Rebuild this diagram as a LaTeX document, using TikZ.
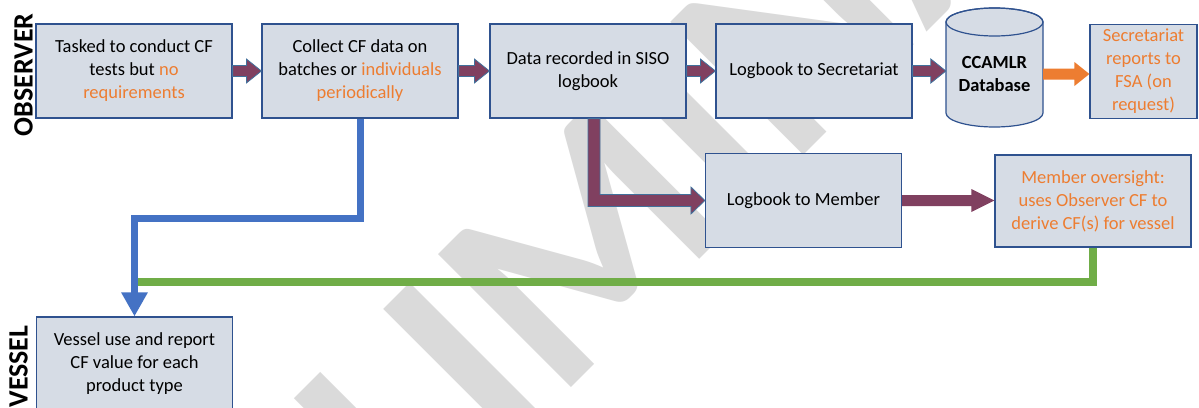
\documentclass[tikz,border=0pt]{standalone}
\usepackage{fontspec}
\setmainfont{Carlito}
\usetikzlibrary{arrows.meta,calc}
\definecolor{boxfill}{HTML}{D6DCE5}
\definecolor{boxline}{HTML}{2F528F}
\definecolor{orng}{HTML}{ED7D31}
\definecolor{maroonfill}{RGB}{128,64,96}
\definecolor{arrline}{HTML}{41719C}
\definecolor{blueline}{HTML}{4472C4}
\definecolor{greenline}{HTML}{70AD47}
\definecolor{wmgray}{RGB}{218,218,218}
\newcommand\blockharrow[3][]{%
  \path[blockarr,#1] let \p1=(#2), \p2=(#3) in
    (\x1,\y1+5.5pt) -- (\x2-15pt,\y1+5.5pt) -- (\x2-15pt,\y1+12pt) -- (\x2,\y1)
    -- (\x2-15pt,\y1-12pt) -- (\x2-15pt,\y1-5.5pt) -- (\x1,\y1-5.5pt) -- cycle;}
\begin{document}
\begin{tikzpicture}[x=1pt,y=-1pt,
  box/.style={draw=boxline, fill=boxfill, line width=1.2pt, align=center,
    inner sep=0pt, minimum width=196pt, minimum height=94pt,
    font=\fontsize{18.5}{23}\selectfont},
  blockarr/.style={fill=maroonfill, draw=arrline, line width=0.8pt, line join=miter},
  lane/.style={font=\fontsize{28}{28}\selectfont\bfseries, rotate=90, inner sep=0pt},
  watermark/.style={font=\fontsize{290}{290}\selectfont\bfseries, text=wmgray,
    rotate=45, inner sep=0pt, anchor=base west}]
\useasboundingbox (0,0) rectangle (1199,407);
\fill[white] (0,0) rectangle (1199,407);
\clip (0,0) rectangle (1199,407);
% watermark
\node[watermark] (wm) at (416,543) {\llap{PRE}LIMINARY};
% lane labels
\node[lane] (obs) at (23.5,75) {OBSERVER};
\node[lane] (ves) at (18.5,366.5) {VESSEL};
% boxes
\node[box] (b1) at (134,71) {Tasked to conduct CF\\tests but \textcolor{orng}{no}\\\textcolor{orng}{requirements}};
\node[box] (b2) at (360,71) {Collect CF data on\\batches or \textcolor{orng}{individuals}\\\textcolor{orng}{periodically}};
\node[box] (b3) at (588,71) {Data recorded in SISO\\logbook};
\node[box] (b4) at (814,71) {Logbook to Secretariat};
\node[box, minimum width=107pt, text=orng] (b5) at (1143.5,71.5) {Secretariat\\reports to\\FSA (on\\request)};
\node[box] (m1) at (803.5,200.5) {Logbook to Member};
\node[box, minimum height=92pt, text=orng] (m2) at (1093,201) {Member oversight:\\uses Observer CF to\\derive CF(s) for vessel};
\node[box] (v) at (134.5,364) {Vessel use and report\\CF value for each\\product type};
% database cylinder
\path[draw=boxline, fill=boxfill, line width=1.2pt]
  (946,22) -- (946,113) arc[start angle=180, end angle=0, x radius=48.5, y radius=14]
  -- (1043,22) arc[start angle=0, end angle=-180, x radius=48.5, y radius=14] -- cycle;
\draw[boxline, line width=1.2pt] (994.5,22) ellipse [x radius=48.5, y radius=14];
\node[inner sep=0pt, minimum width=97pt, minimum height=60pt, align=center,
  font=\fontsize{18.5}{23}\selectfont\bfseries] (db) at (994.5,74) {CCAMLR\\Database};
% block arrows
\blockharrow{b1.east}{b2.west}
\blockharrow{b2.east}{b3.west}
\blockharrow{b3.east}{b4.west}
\blockharrow{b4.east}{db.west}
\blockharrow[fill=orng, draw=none]{db.east}{b5.west}
\path[blockarr, draw=none] let \p1=(m1.east), \p2=(m2.west) in
  (\x1,\y1+5.5pt) -- (\x2-23pt,\y1+5.5pt) -- (\x2-23pt,\y1+11.5pt) -- (\x2,\y1)
  -- (\x2-23pt,\y1-11.5pt) -- (\x2-23pt,\y1-5.5pt) -- (\x1,\y1-5.5pt) -- cycle;
\path[blockarr] let \p1=($(b3.south)+(6,0)$), \p2=(m1.west) in
  (\x1-6pt,\y1) -- (\x1-6pt,\y2-6pt) -- (\x2-14pt,\y2-6pt) -- (\x2-14pt,\y2-13.5pt)
  -- (\x2,\y2) -- (\x2-14pt,\y2+13.5pt) -- (\x2-14pt,\y2+6pt) -- (\x1+6pt,\y2+6pt)
  -- (\x1+6pt,\y1) -- cycle;
% green and blue connectors
\coordinate (bend) at (134.5,218);
\coordinate (gjoin) at (134.5,282);
\draw[greenline, line width=7.5pt] (m2.south) |- (gjoin);
\draw[blueline, line width=7pt, -{Triangle[length=24pt,width=25pt]}] (b2.south) |- (bend) -- (v.north);
\end{tikzpicture}
\end{document}
